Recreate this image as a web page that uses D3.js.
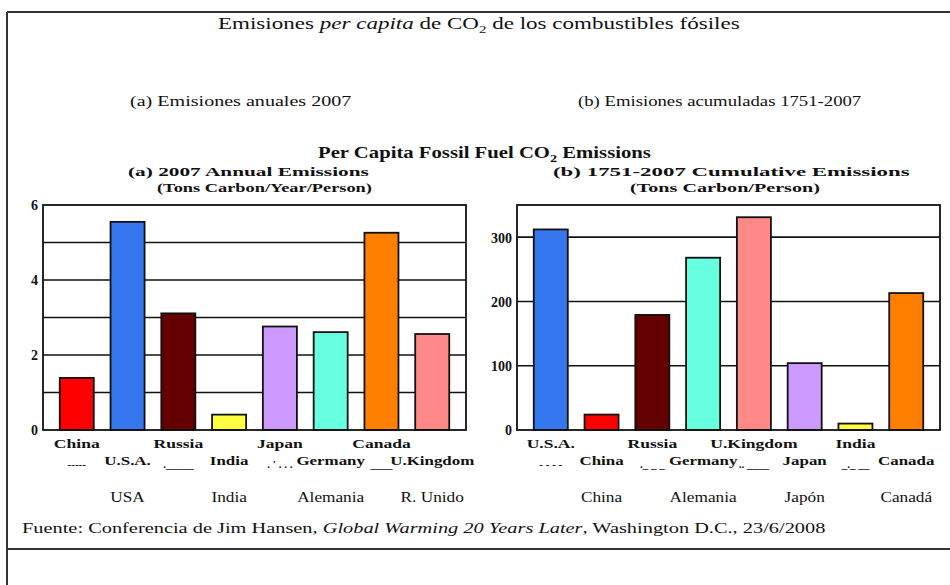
<!DOCTYPE html>
<html>
<head>
<meta charset="utf-8">
<script src="https://cdn.jsdelivr.net/npm/d3@7"></script>
<style>
    body { margin: 0; background: #fff; }
    text { font-family: "Liberation Serif", "DejaVu Serif", serif; fill: #111; }
    .en { font-weight: bold; }
</style>
</head>
<body>
<svg id="scene" width="950" height="585"></svg>
<script>
// (a) 2007 annual emissions, tons carbon / year / person
const annualCountries = ["China", "U.S.A.", "Russia", "India", "Japan", "Germany", "Canada", "U.Kingdom"];
const annualValues = [1.39, 5.55, 3.11, 0.41, 2.76, 2.61, 5.26, 2.56];
const annualSpanish = ["", "USA", "", "India", "", "Alemania", "", "R. Unido"];
const annualDashes = ["-----", "", "._____", "", ". ' . . .", "", "____", ""];
const annualTicks = [0, 2, 4, 6];
const annualGrid = [1, 2, 3, 4, 5];

// (b) 1751-2007 cumulative emissions, tons carbon / person
const cumulativeCountries = ["U.S.A.", "China", "Russia", "Germany", "U.Kingdom", "Japan", "India", "Canada"];
const cumulativeValues = [312, 24, 179, 268, 331, 104, 10, 213];
const cumulativeSpanish = ["", "China", "", "Alemania", "", "Japón", "", "Canadá"];
const cumulativeDashes = ["- - - -", "", "._ _ _", "", ".. ____", "", "_._ __", ""];
const cumulativeTicks = [0, 100, 200, 300];
const cumulativeGrid = [100, 200, 300];

// one colour per country, same in both panels
const countryColors = {
    "China": "#ff0000",
    "U.S.A.": "#3477ee",
    "Russia": "#650000",
    "India": "#ffff40",
    "Japan": "#cc99ff",
    "Germany": "#66ffe0",
    "Canada": "#ff8000",
    "U.Kingdom": "#ff8888",
};

const svg = d3.select("#scene");

// stretch a text horizontally so it spans [x, x + w]
function fitWidth(t, x, y, w) {
    t.attr("x", 0).attr("y", 0).attr("text-anchor", "start");
    const bw = t.node().getBBox().width;
    t.attr("transform", `translate(${x},${y}) scale(${w / bw},1)`);
    return t;
}

// centered text with a fixed horizontal stretch
function stretched(g, x, y, sx, str, cls, size) {
    return g.append("text")
        .attr("class", cls)
        .attr("text-anchor", "middle")
        .attr("transform", `translate(${x},${y}) scale(${sx},1)`)
        .style("font-size", size + "px")
        .text(str);
}

function drawFrame() {
    svg.append("rect").attr("width", 950).attr("height", 585).attr("fill", "#fff");
    const frame = svg.append("g").attr("stroke", "#333").attr("stroke-width", 2);
    frame.append("line").attr("x1", 7).attr("y1", 12).attr("x2", 950).attr("y2", 12);
    frame.append("line").attr("x1", 7).attr("y1", 12).attr("x2", 7).attr("y2", 585);
    frame.append("line").attr("x1", 7).attr("y1", 549).attr("x2", 950).attr("y2", 549);
}

function drawTitles() {
    // spanish header
    let t = svg.append("text").style("font-size", "17px");
    t.append("tspan").text("Emisiones ");
    t.append("tspan").style("font-style", "italic").text("per capita");
    t.append("tspan").text(" de CO");
    t.append("tspan").attr("dy", 4).style("font-size", "11px").text("2");
    t.append("tspan").attr("dy", -4).text(" de los combustibles fósiles");
    fitWidth(t, 218, 29, 522);

    fitWidth(svg.append("text").style("font-size", "15px").text("(a) Emisiones anuales 2007"), 130, 106, 222);
    fitWidth(svg.append("text").style("font-size", "15px").text("(b) Emisiones acumuladas 1751-2007"), 578, 106, 284);

    // english header
    t = svg.append("text").attr("class", "en").style("font-size", "16px");
    t.append("tspan").text("Per Capita Fossil Fuel CO");
    t.append("tspan").attr("dy", 4).style("font-size", "11px").text("2");
    t.append("tspan").attr("dy", -4).text(" Emissions");
    fitWidth(t, 318, 158, 333);

    fitWidth(svg.append("text").attr("class", "en").style("font-size", "13px").text("(a)  2007 Annual Emissions"), 128, 176, 241);
    fitWidth(svg.append("text").attr("class", "en").style("font-size", "12px").text("(Tons Carbon/Year/Person)"), 157, 192, 215);
    fitWidth(svg.append("text").attr("class", "en").style("font-size", "13px").text("(b)  1751-2007 Cumulative Emissions"), 553, 176, 357);
    fitWidth(svg.append("text").attr("class", "en").style("font-size", "12px").text("(Tons Carbon/Person)"), 630, 192, 190);

    // source line
    t = svg.append("text").style("font-size", "15px");
    t.append("tspan").text("Fuente: Conferencia de Jim Hansen, ");
    t.append("tspan").style("font-style", "italic").text("Global Warming 20 Years Later");
    t.append("tspan").text(", Washington D.C., 23/6/2008");
    fitWidth(t, 22, 533, 804);
}

function drawPanel(p) {
    const g = svg.append("g");

    const x = d3.scaleBand()
        .domain(p.countries)
        .range([p.left, p.right])
        .padding(0.33);
    const y = d3.scaleLinear()
        .domain(p.domain)
        .range([430, 205]);

    // gridlines
    g.selectAll(".grid")
        .data(p.grid)
        .enter()
        .append("line")
        .attr("x1", p.left)
        .attr("x2", p.right)
        .attr("y1", (d) => y(d))
        .attr("y2", (d) => y(d))
        .attr("stroke", "#111")
        .attr("stroke-width", 1.6);

    // bars
    g.selectAll(".bar")
        .data(p.values)
        .enter()
        .append("rect")
        .attr("x", (d, i) => x(p.countries[i]))
        .attr("width", x.bandwidth())
        .attr("y", (d) => y(d))
        .attr("height", (d) => y(0) - y(d))
        .attr("fill", (d, i) => countryColors[p.countries[i]])
        .attr("stroke", "#111")
        .attr("stroke-width", 1.8);

    // plot frame
    g.append("rect")
        .attr("x", p.left)
        .attr("y", 205)
        .attr("width", p.right - p.left)
        .attr("height", 225)
        .attr("fill", "none")
        .attr("stroke", "#111")
        .attr("stroke-width", 1.8);

    // y axis labels
    const ax = g.append("g")
        .attr("transform", `translate(${p.left},0)`)
        .call(d3.axisLeft(y).tickValues(p.ticks).tickFormat(d3.format("d")).tickSize(0).tickPadding(5));
    ax.attr("font-family", null).attr("font-size", null);
    ax.select(".domain").remove();
    ax.selectAll("text")
        .attr("class", "en")
        .attr("dy", "0.35em")
        .style("font-size", "14px")
        .attr("fill", "#111");

    // staggered english names, garbled dashes, spanish names
    p.countries.forEach((c, i) => {
        const cx = x(c) + x.bandwidth() / 2;
        if (i % 2 === 0) {
            stretched(g, cx, 448, 1.35, c, "en", 13);
            stretched(g, cx, 468, 1.0, p.dashes[i], "en", 11);
        } else {
            stretched(g, cx, 465, 1.3, c, "en", 13);
            stretched(g, cx, 502, 1.15, p.spanish[i], "", 15);
        }
    });
}

drawFrame();
drawTitles();
drawPanel({
    countries: annualCountries,
    values: annualValues,
    spanish: annualSpanish,
    dashes: annualDashes,
    ticks: annualTicks,
    grid: annualGrid,
    domain: [0, 6],
    left: 43,
    right: 466,
});
drawPanel({
    countries: cumulativeCountries,
    values: cumulativeValues,
    spanish: cumulativeSpanish,
    dashes: cumulativeDashes,
    ticks: cumulativeTicks,
    grid: cumulativeGrid,
    domain: [0, 350],
    left: 517,
    right: 940,
});
</script>
</body>
</html>
